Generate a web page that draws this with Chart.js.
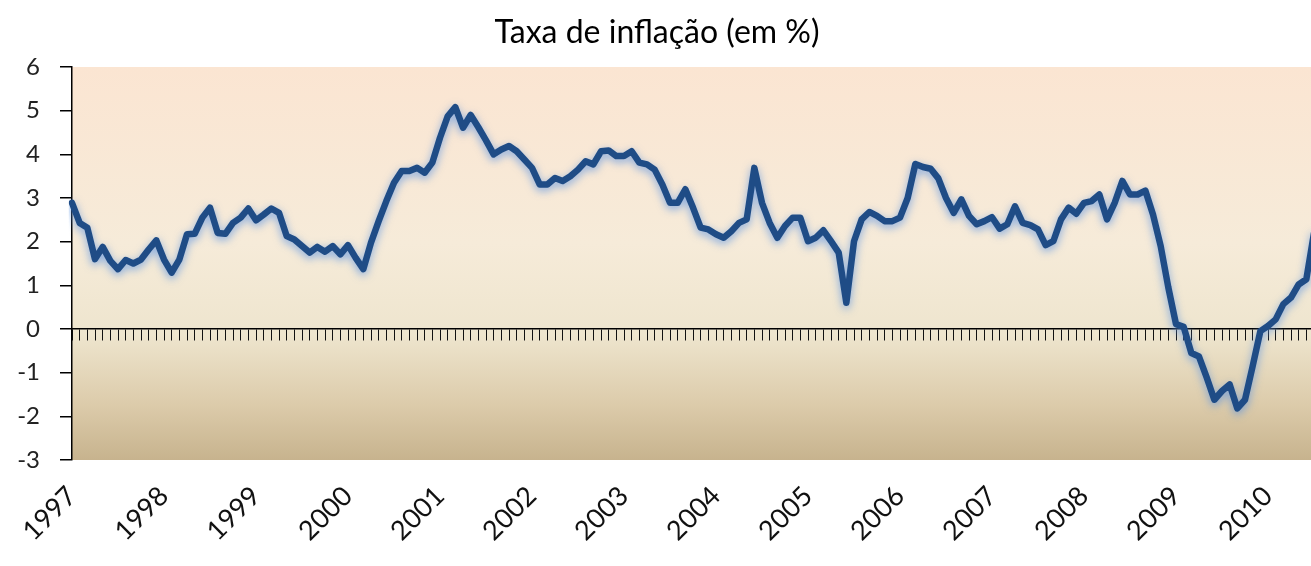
<!DOCTYPE html>
<html><head><meta charset="utf-8">
<script src="https://cdn.jsdelivr.net/npm/chart.js@4"></script>
<style>html,body{margin:0;padding:0;background:#fff;overflow:hidden}#wrap{width:1314px;height:566px}</style>
</head><body><div id="wrap"><canvas id="c" width="1314" height="566"></canvas></div>
<script>
const chartTitle = 'Taxa de inflação (em %)';
const years = [1997,1998,1999,2000,2001,2002,2003,2004,2005,2006,2007,2008,2009,2010];
const monthsPerYear = 12;
const yMin = -3, yMax = 6;
// monthly inflation rate (%), Jan 1997 - Jul 2010
const inflation = [
 2.89,2.43,2.32,1.60,1.88,1.56,1.37,1.58,1.50,1.59,1.82,2.03,
 1.59,1.29,1.59,2.17,2.18,2.55,2.78,2.20,2.18,2.43,2.55,2.76,
 2.49,2.62,2.76,2.66,2.13,2.05,1.90,1.75,1.88,1.77,1.90,1.71,
 1.92,1.63,1.37,1.98,2.47,2.93,3.35,3.62,3.62,3.69,3.58,3.81,
 4.38,4.87,5.08,4.61,4.90,4.62,4.32,4.00,4.11,4.19,4.07,3.88,
 3.69,3.31,3.31,3.46,3.39,3.50,3.65,3.84,3.77,4.07,4.09,3.96,
 3.96,4.07,3.81,3.77,3.65,3.31,2.89,2.89,3.20,2.78,2.32,2.28,
 2.17,2.09,2.24,2.43,2.51,3.69,2.89,2.43,2.09,2.36,2.55,2.55,
 2.01,2.09,2.26,2.01,1.75,0.60,2.01,2.51,2.68,2.59,2.47,2.47,
 2.55,3.00,3.78,3.71,3.67,3.45,3.00,2.66,2.97,2.59,2.40,2.47,
 2.56,2.30,2.40,2.81,2.43,2.38,2.28,1.92,2.01,2.51,2.78,2.64,
 2.89,2.93,3.08,2.51,2.89,3.39,3.08,3.08,3.17,2.62,1.90,0.95,
 0.11,0.05,-0.55,-0.63,-1.11,-1.62,-1.42,-1.27,-1.82,-1.62,-0.85,-0.05,
 0.07,0.22,0.57,0.72,1.02,1.14,2.20
];

const labels = [];
years.forEach(y => { for (let m = 1; m <= monthsPerYear; m++) labels.push(y + '-' + String(m).padStart(2,'0')); });
labels.length = inflation.length;

const FONT = 'Lato, "Open Sans", "DejaVu Sans", sans-serif';

const bgPlugin = {
  id: 'plotBg',
  beforeDraw(chart) {
    const {ctx, chartArea: a} = chart;
    const g = ctx.createLinearGradient(0, a.top, 0, a.bottom);
    g.addColorStop(0, '#FBE5D2');
    g.addColorStop(0.45, '#F6EBD9');
    g.addColorStop(0.68, '#EEE5CE');
    g.addColorStop(0.86, '#DCCBAA');
    g.addColorStop(1, '#C7B38E');
    ctx.save();
    ctx.fillStyle = g;
    ctx.fillRect(a.left, a.top, a.right - a.left, a.bottom - a.top);
    ctx.restore();
  }
};
const glowPlugin = {
  id: 'glow',
  beforeDatasetDraw(chart) {
    const ctx = chart.ctx;
    ctx.save();
    ctx.shadowColor = 'rgba(90,145,225,0.75)';
    ctx.shadowBlur = 9;
    ctx.shadowOffsetY = 3;
  },
  afterDatasetDraw(chart) { chart.ctx.restore(); }
};

new Chart(document.getElementById('c'), {
  type: 'line',
  data: {
    labels: labels,
    datasets: [{
      data: inflation,
      borderColor: '#1F4C86',
      borderWidth: 6.5,
      pointRadius: 0,
      tension: 0,
      borderJoinStyle: 'round',
      borderCapStyle: 'round',
      fill: false
    }]
  },
  options: {
    responsive: false,
    animation: false,
    devicePixelRatio: 1,
    layout: { padding: 0 },
    plugins: {
      legend: { display: false },
      tooltip: { enabled: false },
      title: {
        display: true,
        text: chartTitle,
        color: '#000',
        font: { family: FONT, size: 32, weight: 'normal' },
        padding: { top: 13, bottom: 15.6 }
      }
    },
    scales: {
      x: {
        type: 'category',
        position: { y: 0 },
        offset: false,
        grid: { display: true, drawOnChartArea: false, drawTicks: true, tickLength: 11, color: '#111', lineWidth: 1 },
        border: { display: true, color: '#000', width: 1.5 },
        ticks: { display: false }
      },
      x2: {
        type: 'category',
        position: 'bottom',
        offset: false,
        grid: { display: false },
        border: { display: false },
        ticks: {
          autoSkip: false,
          minRotation: 45,
          maxRotation: 45,
          padding: 12,
          color: '#111',
          font: { family: FONT, size: 27 },
          callback: (v, i) => (i % monthsPerYear === 0) ? String(years[i / monthsPerYear]) : ''
        },
        afterFit: s => { s.height = 106; s.paddingLeft = 0; s.paddingRight = 0; }
      },
      y: {
        type: 'linear',
        min: yMin,
        max: yMax,
        grid: { display: true, drawOnChartArea: false, drawTicks: true, tickLength: 12, color: '#000', lineWidth: 1.5 },
        border: { display: true, color: '#000', width: 1.5 },
        ticks: { stepSize: 1, padding: 20, color: '#222', font: { family: FONT, size: 24 } },
        afterFit: s => { s.width = 72; s.paddingTop = 0; s.paddingBottom = 0; }
      }
    }
  },
  plugins: [bgPlugin, glowPlugin]
});
</script>
</body></html>
